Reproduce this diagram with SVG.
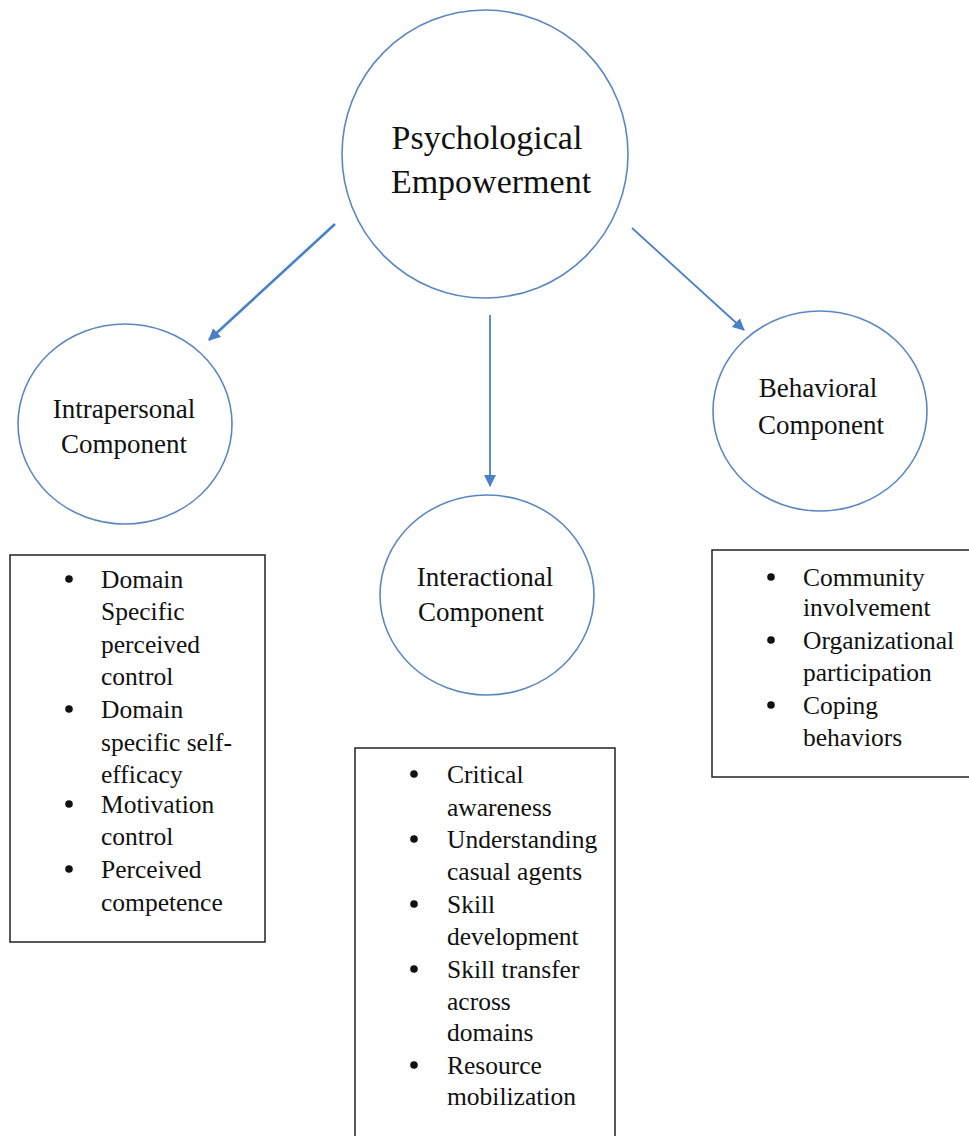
<svg xmlns="http://www.w3.org/2000/svg" width="969" height="1136" viewBox="0 0 969 1136" font-family="'Liberation Serif', 'Times New Roman', Tinos, 'DejaVu Serif', serif">
<style>
.node ellipse{fill:#fff;stroke:#5b87c0;stroke-width:1.6}
text{font-family:"Liberation Serif","Times New Roman",Tinos,"DejaVu Serif",serif;fill:#111}
.lbl{text-anchor:middle}
.big{font-size:34px}
.mid{font-size:27px}
.box{fill:#fff;stroke:#222;stroke-width:1.5}
.item{font-size:25.5px}
.bul{fill:#111}
.conn line{stroke:#4a80c8;stroke-width:1.8}
.conn .thick{stroke-width:2.6}
</style>
<defs>
<marker id="ah" markerWidth="12" markerHeight="12" refX="11" refY="6" orient="auto" markerUnits="userSpaceOnUse" viewBox="0 0 12 12">
<path d="M0,0 L12,6 L0,12 z" fill="#4a80c8"/>
</marker>
</defs>
<rect width="969" height="1136" fill="#fff"/>

<g id="node-psych" class="node">
<ellipse cx="485" cy="154" rx="143" ry="144"/>
<text class="lbl big" x="487" y="149">Psychological</text>
<text class="lbl big" x="491" y="193">Empowerment</text>
</g>

<g id="node-intra" class="node">
<ellipse cx="125" cy="424" rx="107" ry="100"/>
<text class="lbl mid" x="124" y="418">Intrapersonal</text>
<text class="lbl mid" x="124" y="453">Component</text>
</g>

<g id="node-inter" class="node">
<ellipse cx="487" cy="595" rx="107" ry="100"/>
<text class="lbl mid" x="485" y="586">Interactional</text>
<text class="lbl mid" x="481" y="621">Component</text>
</g>

<g id="node-behav" class="node">
<ellipse cx="820" cy="411" rx="107" ry="100"/>
<text class="lbl mid" x="818" y="397">Behavioral</text>
<text class="lbl mid" x="821" y="434">Component</text>
</g>

<g id="connectors" class="conn">
<line class="thick" x1="335" y1="224" x2="209" y2="340" marker-end="url(#ah)"/>
<line x1="490" y1="315" x2="490" y2="486" marker-end="url(#ah)"/>
<line x1="632" y1="228" x2="744" y2="330" marker-end="url(#ah)"/>
</g>

<g id="box-intra">
<rect class="box" x="10" y="555" width="255" height="387"/>
<circle class="bul" cx="69" cy="579" r="3.8"/>
<circle class="bul" cx="69" cy="709" r="3.8"/>
<circle class="bul" cx="69" cy="804" r="3.8"/>
<circle class="bul" cx="69" cy="869" r="3.8"/>
<text class="item" x="101" y="588">Domain</text>
<text class="item" x="101" y="620">Specific</text>
<text class="item" x="101" y="653">perceived</text>
<text class="item" x="101" y="685">control</text>
<text class="item" x="101" y="718">Domain</text>
<text class="item" x="101" y="751">specific self-</text>
<text class="item" x="101" y="783">efficacy</text>
<text class="item" x="101" y="813">Motivation</text>
<text class="item" x="101" y="845">control</text>
<text class="item" x="101" y="878">Perceived</text>
<text class="item" x="101" y="911">competence</text>
</g>

<g id="box-inter">
<rect class="box" x="355" y="748" width="260" height="400"/>
<circle class="bul" cx="414" cy="774" r="3.8"/>
<circle class="bul" cx="414" cy="839" r="3.8"/>
<circle class="bul" cx="414" cy="904" r="3.8"/>
<circle class="bul" cx="414" cy="969" r="3.8"/>
<circle class="bul" cx="414" cy="1065" r="3.8"/>
<text class="item" x="447" y="783">Critical</text>
<text class="item" x="447" y="816">awareness</text>
<text class="item" x="447" y="848">Understanding</text>
<text class="item" x="447" y="880">casual agents</text>
<text class="item" x="447" y="913">Skill</text>
<text class="item" x="447" y="945">development</text>
<text class="item" x="447" y="978">Skill transfer</text>
<text class="item" x="447" y="1010">across</text>
<text class="item" x="447" y="1041">domains</text>
<text class="item" x="447" y="1074">Resource</text>
<text class="item" x="447" y="1105">mobilization</text>
</g>

<g id="box-behav">
<rect class="box" x="712" y="550" width="270" height="227"/>
<circle class="bul" cx="771" cy="577" r="3.8"/>
<circle class="bul" cx="771" cy="640" r="3.8"/>
<circle class="bul" cx="771" cy="705" r="3.8"/>
<text class="item" x="803" y="586">Community</text>
<text class="item" x="803" y="616">involvement</text>
<text class="item" x="803" y="649">Organizational</text>
<text class="item" x="803" y="681">participation</text>
<text class="item" x="803" y="714">Coping</text>
<text class="item" x="803" y="746">behaviors</text>
</g>
</svg>
